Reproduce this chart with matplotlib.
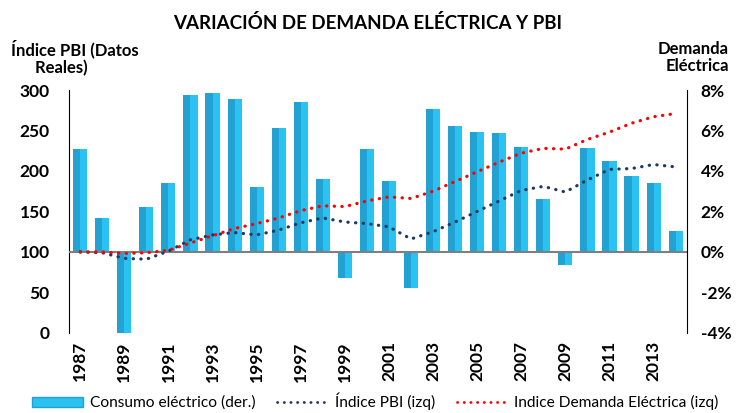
import matplotlib
matplotlib.use("Agg")
import matplotlib.pyplot as plt
from matplotlib.patches import Patch
from matplotlib.lines import Line2D
from matplotlib.ticker import FuncFormatter

plt.rcParams['font.family'] = ['Lato', 'DejaVu Sans']

# data
years = list(range(1987, 2015))
consumo = [5.1, 1.7, -4.0, 2.2, 3.4, 7.75, 7.85, 7.55, 3.2, 6.1, 7.4, 3.6, -1.3, 5.1,
           3.5, -1.8, 7.05, 6.2, 5.95, 5.9, 5.2, 2.6, -0.65, 5.15, 4.5, 3.75, 3.4, 1.05]
indice_pbi = [100, 99, 92, 91, 101, 115, 121, 124, 121, 127, 136, 142, 137, 135,
              131, 116, 125, 137, 150, 163, 176, 181, 174, 189, 202, 203, 208, 205]
indice_dem = [100, 100, 98, 99, 102, 111, 120, 129, 135, 142, 151, 157, 156, 163,
              168, 166, 175, 187, 199, 211, 222, 228, 227, 239, 248, 259, 267, 271]
xtick_years = years[::2]

CYAN = "#29C2F1"
CYAN_DARK = "#21A2D2"
NAVY = "#1F3864"
RED = "#FF0000"
DOTS = (0, (0.1, 2.3))

fig = plt.figure(figsize=(7.36, 4.13), dpi=100)
ax = fig.add_axes([0.094, 0.194, 0.839, 0.588])
ax2 = ax.twinx()

# bars on the right axis (behind)
w = 0.64
ax2.bar(years, consumo, width=w, color=CYAN, edgecolor="none", zorder=2)
ax2.bar([y - w / 4 for y in years], consumo, width=w / 2, color=CYAN_DARK,
        edgecolor="none", zorder=3)
ax2.set_ylim(-4, 8)
ax2.set_yticks(range(-4, 9, 2))
ax2.yaxis.set_major_formatter(FuncFormatter(lambda v, p: f"{int(v)}%"))

# lines on the left axis (in front)
ax.plot(years, indice_pbi, color=NAVY, lw=2.3, linestyle=DOTS,
        dash_capstyle="round", zorder=5)
ax.plot(years, indice_dem, color=RED, lw=2.3, linestyle=DOTS,
        dash_capstyle="round", zorder=5)
ax.axhline(100, color="#7f7f7f", lw=1.5, zorder=4)
ax.set_ylim(0, 300)
ax.set_yticks(range(0, 301, 50))
ax.set_xlim(years[0] - 0.5, years[-1] + 0.5)
ax.set_xticks(xtick_years)
ax.set_xticklabels([str(y) for y in xtick_years], rotation=90)

ax.set_zorder(ax2.get_zorder() + 1)
ax.patch.set_visible(False)

for a in (ax, ax2):
    a.spines["top"].set_visible(False)
    a.spines["bottom"].set_visible(False)
    a.tick_params(length=0, labelsize=12.5, pad=6)
    for lab in a.get_xticklabels() + a.get_yticklabels():
        lab.set_fontweight("bold")
ax.spines["right"].set_visible(False)
ax2.spines["left"].set_visible(False)
ax.spines["left"].set_color("black")
ax2.spines["right"].set_color("black")
ax.tick_params(axis="y", pad=14)
ax2.tick_params(axis="y", pad=10)

fig.text(0.5, 0.945, "VARIACIÓN DE DEMANDA ELÉCTRICA Y PBI", ha="center",
         va="center", fontsize=13.5, fontweight="bold")
fig.text(0.015, 0.86, "Índice PBI (Datos\n      Reales)", ha="left", va="center",
         fontsize=12, fontweight="bold", linespacing=1.1)
fig.text(0.99, 0.86, "Demanda\nEléctrica", ha="right", va="center",
         fontsize=12, fontweight="bold", linespacing=1.1, multialignment="right")

handles = [Patch(facecolor=CYAN, edgecolor=CYAN_DARK),
           Line2D([], [], color=NAVY, lw=2.0, linestyle=DOTS, dash_capstyle="round"),
           Line2D([], [], color=RED, lw=2.0, linestyle=DOTS, dash_capstyle="round")]
labels = ["Consumo eléctrico (der.)", "Índice PBI (izq)", "Indice Demanda Eléctrica (izq)"]
fig.legend(handles, labels, loc="center", bbox_to_anchor=(0.51, 0.028), ncol=3,
           frameon=False, fontsize=11.2, handlelength=3.3, handleheight=0.6,
           columnspacing=1.4, handletextpad=0.4)

fig.savefig("out.png", dpi=100)
